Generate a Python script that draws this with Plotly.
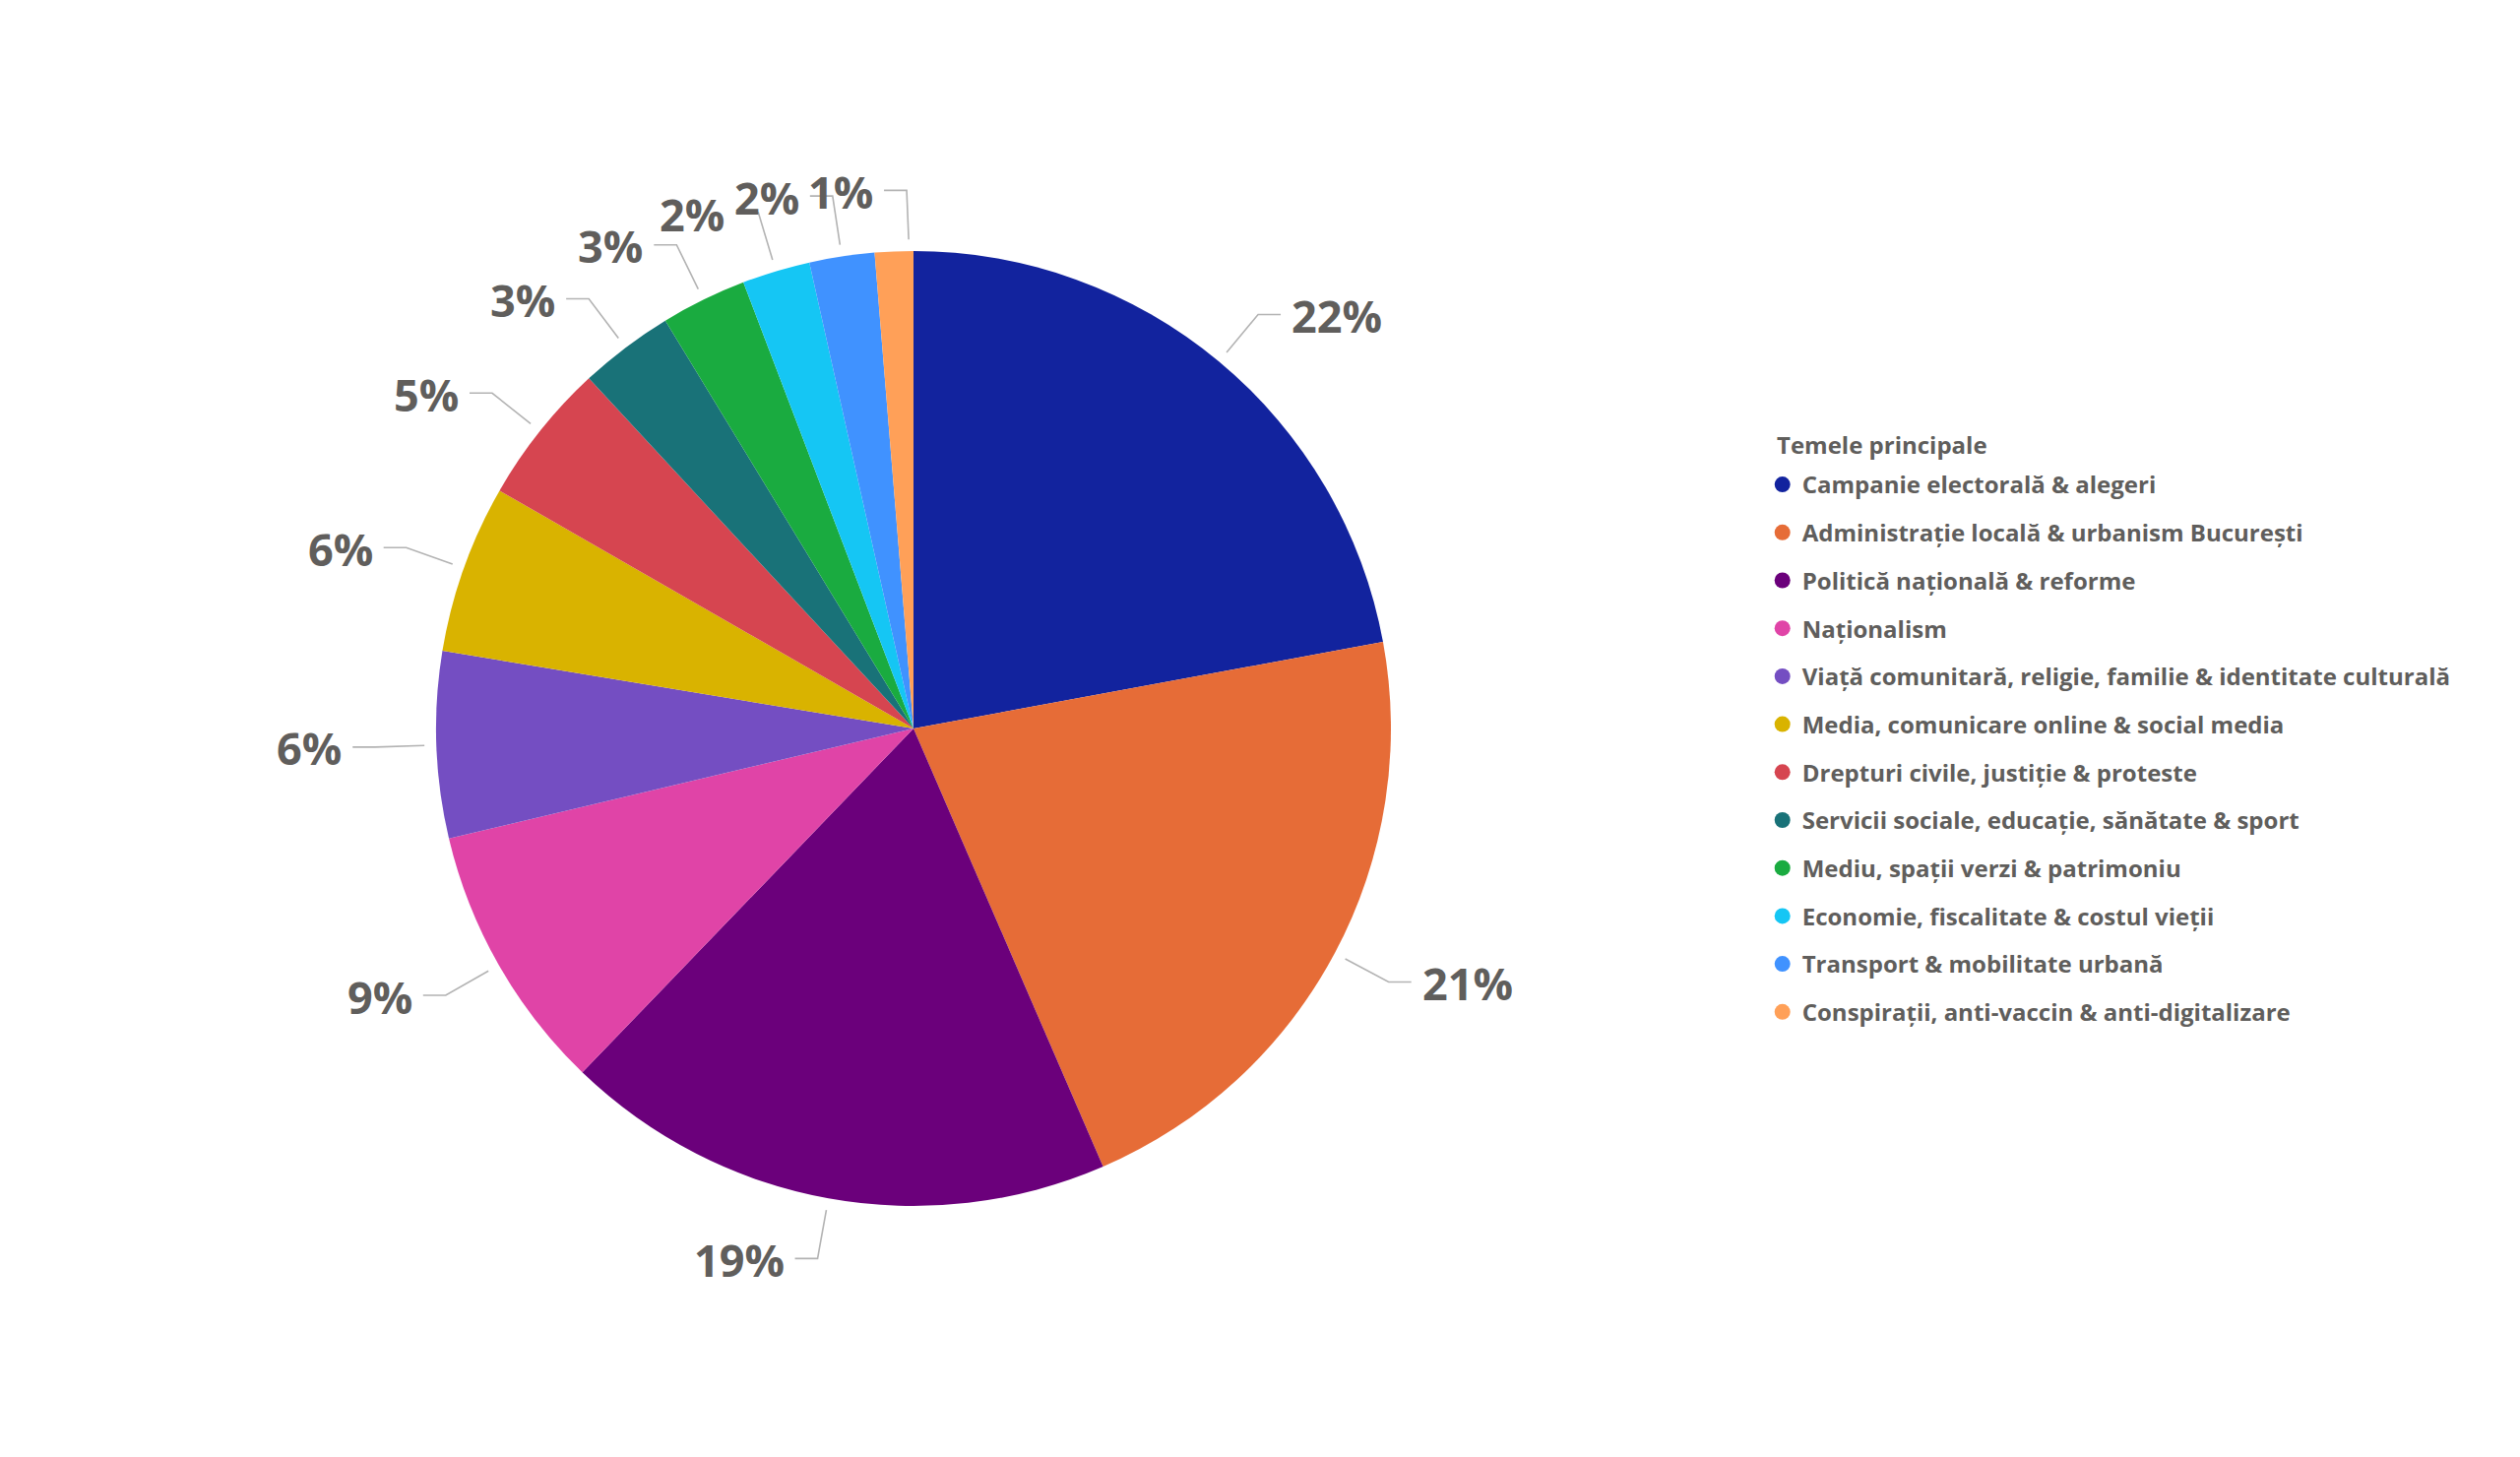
import math
import plotly.graph_objects as go

categories = [
    "Campanie electorală & alegeri",
    "Administrație locală & urbanism București",
    "Politică națională & reforme",
    "Naționalism",
    "Viață comunitară, religie, familie & identitate culturală",
    "Media, comunicare online & social media",
    "Drepturi civile, justiție & proteste",
    "Servicii sociale, educație, sănătate & sport",
    "Mediu, spații verzi & patrimoniu",
    "Economie, fiscalitate & costul vieții",
    "Transport & mobilitate urbană",
    "Conspirații, anti-vaccin & anti-digitalizare",
]
values = [22.1, 21.4, 18.7, 9.1, 6.3, 5.7, 4.8, 3.2, 2.9, 2.3, 2.2, 1.3]
colors = ["#12239E", "#E66C37", "#6B007B", "#E044A7", "#744EC2", "#D9B300",
          "#D64550", "#197278", "#1AAB40", "#15C6F4", "#4092FF", "#FFA058"]
legend_title = "Temele principale"

TEXT = "#605E5C"
LINE = "#B3B3B3"
FONT = "Open Sans"
W, H = 2560, 1480
DOM_X = [0.173, 0.552]
DOM_Y = [0.1723, 0.8277]
LBL_SIZE = 45

fig = go.Figure()
fig.add_trace(go.Pie(
    labels=categories, values=values, sort=False, direction="clockwise",
    rotation=0, marker=dict(colors=colors, line=dict(width=0)),
    textinfo="none", showlegend=False,
    domain=dict(x=DOM_X, y=DOM_Y), hoverinfo="label+percent",
))
for i, (c, col) in enumerate(zip(categories, colors)):
    fig.add_trace(go.Scatter(
        x=[None], y=[None], mode="markers", name=c, legendgroup=str(i),
        marker=dict(symbol="circle", size=18, color=col),
    ))

# outside labels with elbow leader lines, derived from the pie geometry
cx = (DOM_X[0] + DOM_X[1]) / 2 * W
cy = (1 - (DOM_Y[0] + DOM_Y[1]) / 2) * H
R = min((DOM_X[1] - DOM_X[0]) * W, (DOM_Y[1] - DOM_Y[0]) * H) / 2
total = sum(values)
cum = 0.0
labels = []
for v in values:
    mid = (cum + v / 2) / total * 2 * math.pi
    cum += v
    sx, sy = math.sin(mid), -math.cos(mid)
    txt = f"{round(v / total * 100)}%"
    side = 1 if sx >= 0 else -1
    p0 = [cx + R * 1.025 * sx, cy + R * 1.025 * sy]
    p1 = [cx + R * 1.128 * sx, cy + R * 1.128 * sy]
    p2 = [p1[0] + side * 23, p1[1]]
    width = LBL_SIZE * (0.6 * (len(txt) - 1) + 0.85)
    labels.append(dict(txt=txt, side=side, p0=p0, p1=p1, p2=p2, w=width))

# simple collision avoidance on the left side (labels run bottom -> top)
prev = None
for lb in labels:
    if lb["side"] > 0:
        continue
    right = lb["p2"][0] - 9
    left = right - lb["w"]
    if prev is not None and abs(prev["p2"][1] - lb["p2"][1]) < LBL_SIZE * 0.9:
        prev_right = prev["p2"][0] - 9
        need = prev_right + 10 - left
        if need > 0:
            for k in ("p0", "p1", "p2"):
                lb[k][0] += need
    prev = lb

annotations = []
shapes = []
for lb in labels:
    pts = [(x / W, 1 - y / H) for x, y in (lb["p0"], lb["p1"], lb["p2"])]
    shapes.append(dict(
        type="path", xref="paper", yref="paper",
        path="M {},{} L {},{} L {},{}".format(*[c for p in pts for c in p]),
        line=dict(color=LINE, width=1.6),
    ))
    side = lb["side"]
    annotations.append(dict(
        x=(lb["p2"][0] + side * 9) / W, y=1 - (lb["p2"][1] + 1) / H,
        xref="paper", yref="paper", text=lb["txt"], showarrow=False,
        xanchor="left" if side > 0 else "right", yanchor="middle",
        font=dict(family=FONT, size=LBL_SIZE, color=TEXT, weight="bold"),
    ))

annotations.append(dict(
    x=1803 / W, y=1 - 451 / H, xref="paper", yref="paper", text=legend_title,
    showarrow=False, xanchor="left", yanchor="middle",
    font=dict(family=FONT, size=24, color=TEXT, weight="bold"),
))

fig.update_layout(
    width=W, height=H, margin=dict(l=0, r=0, t=0, b=0),
    paper_bgcolor="white", plot_bgcolor="white",
    xaxis=dict(visible=False), yaxis=dict(visible=False),
    shapes=shapes, annotations=annotations,
    legend=dict(
        font=dict(family=FONT, size=24, color=TEXT, weight="bold"),
        x=0.6995, y=1 - 470 / H, xanchor="left", yanchor="top",
        tracegroupgap=14.5, itemwidth=30, bgcolor="rgba(0,0,0,0)",
    ),
)
fig.write_html("out.html")
